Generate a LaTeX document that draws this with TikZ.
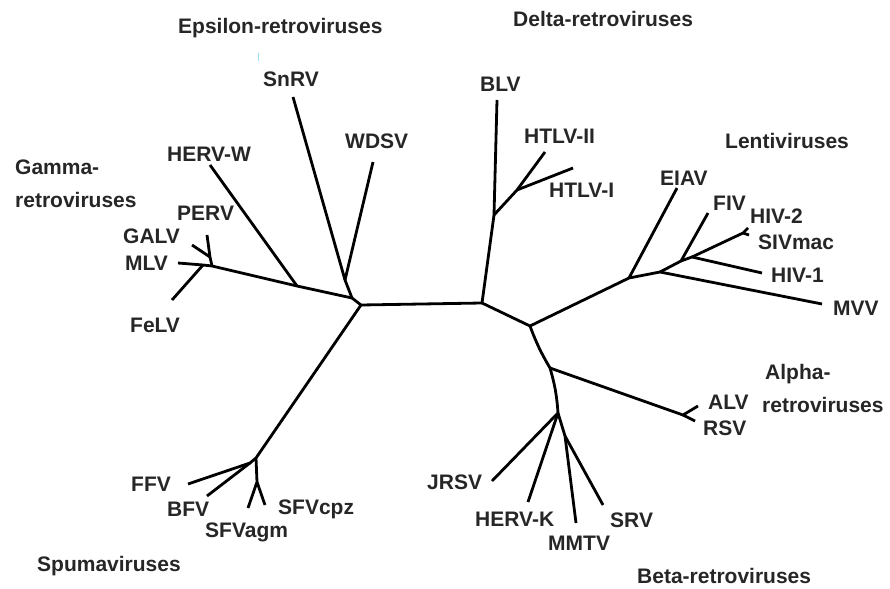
\documentclass[tikz,border=0pt]{standalone}
\usepackage{fontspec}
\setmainfont{Liberation Sans}
\begin{document}
\begin{tikzpicture}[x=1pt,y=-1pt,
  br/.style={line width=2.8pt,line join=round,line cap=butt},
  lab/.style={anchor=base west,inner sep=0pt,font=\fontsize{21}{25}\selectfont\bfseries,text=black!85}]
\useasboundingbox (0,0) rectangle (890,588);
% internal nodes
\coordinate (L) at (361,305);
\coordinate (R1) at (482,303);
\coordinate (R2) at (530,326);
\coordinate (gE) at (352,298);
\coordinate (eJ) at (345,280);
\coordinate (gH) at (297,286);
\coordinate (gA) at (212,266);
\coordinate (gP) at (210,257);
\coordinate (gF) at (203,265);
\coordinate (sJ) at (256,458);
\coordinate (sFB) at (250,463);
\coordinate (sS) at (257,482);
\coordinate (dJ) at (494,215);
\coordinate (dH) at (517,190);
\coordinate (lJ) at (629,278);
\coordinate (lM) at (660,272);
\coordinate (lF) at (681,261);
\coordinate (lH) at (692,257);
\coordinate (lS) at (743,233);
\coordinate (aJ) at (550,368);
\coordinate (aA) at (683,415);
\coordinate (bJ) at (558,413);
\coordinate (bM) at (565,436);
% tips
\coordinate (tSnRV) at (293,97);
\coordinate (tWDSV) at (373,162);
\coordinate (tHERVW) at (210,165);
\coordinate (tGALV) at (192,245);
\coordinate (tPERV) at (207,235);
\coordinate (tMLV) at (178,263);
\coordinate (tFeLV) at (172,300);
\coordinate (tFFV) at (188,484);
\coordinate (tBFV) at (207,496);
\coordinate (tSFVagm) at (248,508);
\coordinate (tSFVcpz) at (265,505);
\coordinate (tBLV) at (497,100);
\coordinate (tHTLVII) at (545,152);
\coordinate (tHTLVI) at (573,168);
\coordinate (tEIAV) at (677,188);
\coordinate (tMVV) at (822,304);
\coordinate (tFIV) at (708,213);
\coordinate (tHIV1) at (762,273);
\coordinate (tHIV2) at (748,228);
\coordinate (tSIVmac) at (749,235);
\coordinate (tALV) at (698,406);
\coordinate (tRSV) at (695,421);
\coordinate (tJRSV) at (492,481);
\coordinate (tHERVK) at (528,502);
\coordinate (tMMTV) at (576,523);
\coordinate (tSRV) at (603,505);
% branches
\draw[br] (R1) -- (L) -- (gE) -- (gH) -- (gA) -- (gF) -- (tMLV);
\draw[br] (gE) -- (eJ) -- (tSnRV);
\draw[br] (eJ) -- (tWDSV);
\draw[br] (gH) -- (tHERVW);
\draw[br] (gA) -- (gP) -- (tPERV);
\draw[br] (gP) -- (tGALV);
\draw[br] (gF) -- (tFeLV);
\draw[br] (L) -- (sJ) -- (sFB) -- (tFFV);
\draw[br] (sFB) -- (tBFV);
\draw[br] (sJ) -- (sS) -- (tSFVagm);
\draw[br] (sS) -- (tSFVcpz);
\draw[br] (R1) -- (dJ) -- (tBLV);
\draw[br] (dJ) -- (dH) -- (tHTLVII);
\draw[br] (dH) -- (tHTLVI);
\draw[br] (R1) -- (R2) -- (lJ) -- (lM) -- (tMVV);
\draw[br] (lJ) -- (tEIAV);
\draw[br] (lM) -- (lF) -- (tFIV);
\draw[br] (lF) -- (lH) -- (tHIV1);
\draw[br] (lH) -- (lS) -- (tHIV2);
\draw[br] (lS) -- (tSIVmac);
\draw[br] (R2) to[bend right=5] (aJ);
\draw[br] (aJ) -- (aA) -- (tALV);
\draw[br] (aA) -- (tRSV);
\draw[br] (aJ) to[bend left=6] (bJ);
\draw[br] (bJ) -- (tJRSV);
\draw[br] (bJ) -- (tHERVK);
\draw[br] (bJ) -- (bM) -- (tMMTV);
\draw[br] (bM) -- (tSRV);
\draw[line width=1pt,cyan!40] (258,53) -- (258,61);
% labels
\node[lab] (nEps) at (178,34) {Epsilon-retroviruses};
\node[lab] (nDelta) at (513,27) {Delta-retroviruses};
\node[lab] (nGam1) at (15,175) {Gamma-};
\node[lab] (nGam2) at (15,207) {retroviruses};
\node[lab] (nHERVW) at (167,161) {HERV-W};
\node[lab] (nPERV) at (177,220) {PERV};
\node[lab] (nGALV) at (123,243) {GALV};
\node[lab] (nMLV) at (125,270) {MLV};
\node[lab] (nFeLV) at (130,332) {FeLV};
\node[lab] (nSnRV) at (263,87) {SnRV};
\node[lab] (nWDSV) at (345,149) {WDSV};
\node[lab] (nBLV) at (480,92) {BLV};
\node[lab] (nHTLVII) at (524,144) {HTLV-II};
\node[lab] (nHTLVI) at (549,197) {HTLV-I};
\node[lab] (nLenti) at (725,149) {Lentiviruses};
\node[lab] (nEIAV) at (660,185) {EIAV};
\node[lab] (nFIV) at (713,210) {FIV};
\node[lab] (nHIV2) at (750,223) {HIV-2};
\node[lab] (nSIVmac) at (758,249) {SIVmac};
\node[lab] (nHIV1) at (771,282) {HIV-1};
\node[lab] (nMVV) at (833,315) {MVV};
\node[lab] (nAlpha1) at (765,379) {Alpha-};
\node[lab] (nAlpha2) at (762,412) {retroviruses};
\node[lab] (nALV) at (708,409) {ALV};
\node[lab] (nRSV) at (703,435) {RSV};
\node[lab] (nJRSV) at (427,489) {JRSV};
\node[lab] (nHERVK) at (475,526) {HERV-K};
\node[lab] (nMMTV) at (548,550) {MMTV};
\node[lab] (nSRV) at (610,527) {SRV};
\node[lab] (nBeta) at (637,583) {Beta-retroviruses};
\node[lab] (nFFV) at (131,491) {FFV};
\node[lab] (nBFV) at (167,516) {BFV};
\node[lab] (nSFVagm) at (205,537) {SFVagm};
\node[lab] (nSFVcpz) at (278,514) {SFVcpz};
\node[lab] (nSpuma) at (37,571) {Spumaviruses};
\end{tikzpicture}
\end{document}
